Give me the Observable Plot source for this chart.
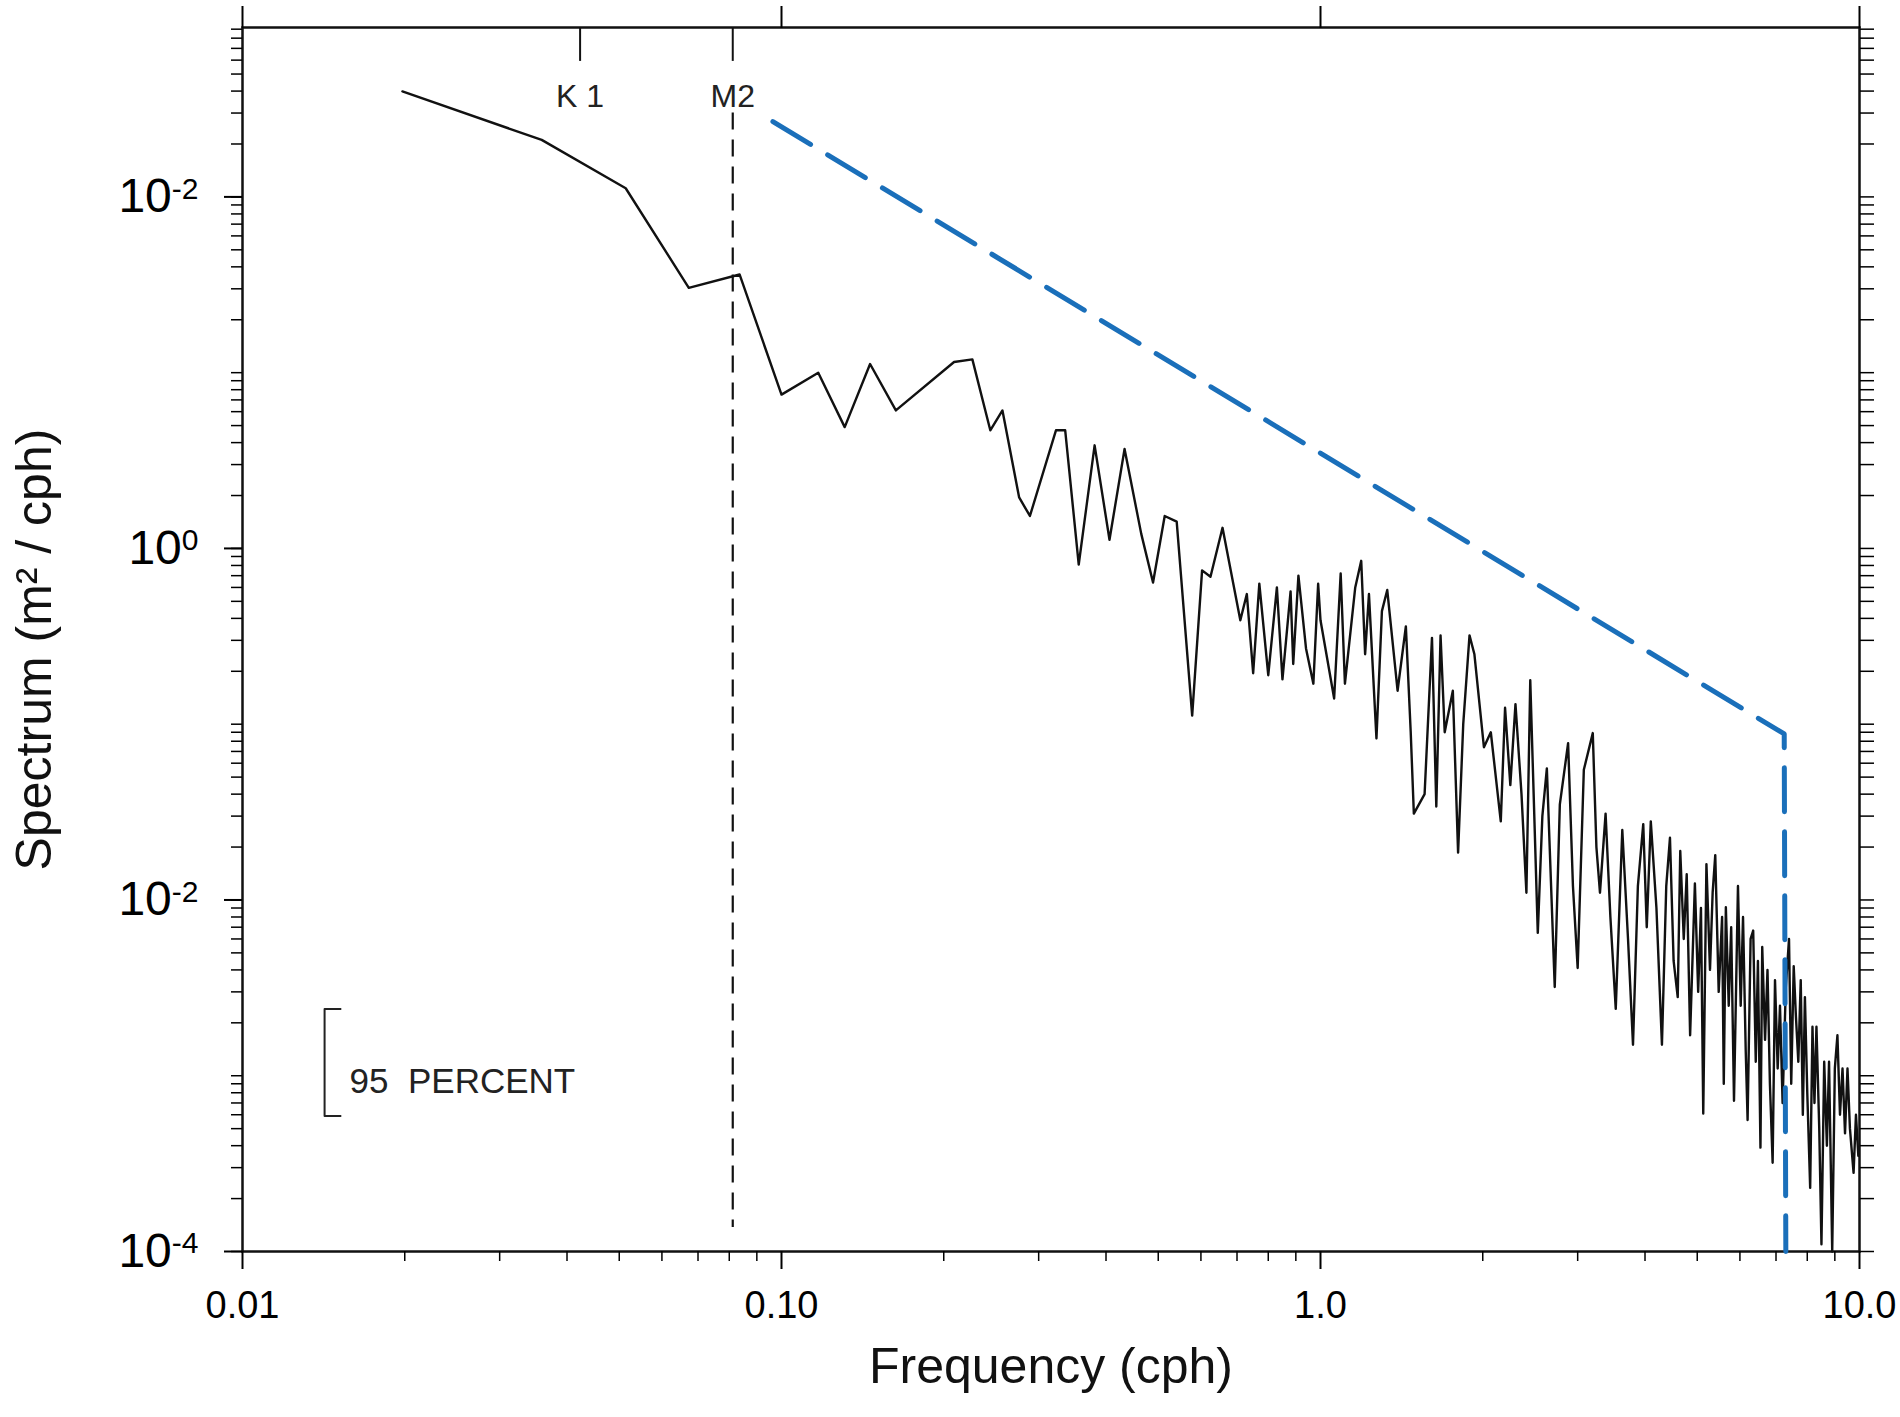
<!DOCTYPE html>
<html><head><meta charset="utf-8">
<script src="https://cdn.jsdelivr.net/npm/d3@7"></script>
<script src="https://cdn.jsdelivr.net/npm/@observablehq/plot@0.6"></script>
<style>body{margin:0;background:#fff}</style>
</head><body><div id="chart"></div>
<script>
const freq = [0.0198,0.0359,0.0514,0.0673,0.0836,0.100,0.117,0.131,0.146,0.163,0.209,0.226,0.244,0.257,0.276,0.289,0.323,0.336,0.356,0.381,0.406,0.433,0.465,0.489,0.514,0.541,0.578,0.603,0.625,0.658,
0.71,0.73,0.75,0.77,0.80,0.83,0.85,0.88,0.89,0.91,0.94,0.97,0.99,1.00,1.06,1.09,1.11,1.16,1.19,1.21,1.23,1.27,1.30,1.33,1.39,1.44,1.47,1.49,1.56,1.61,1.64,1.67,1.70,1.76,1.80,1.84,1.89,1.93,2.01,2.07,2.16,2.20,2.25,2.30,2.36,2.41,2.45,2.53,2.58,2.63,2.72,2.78,
2.88,2.94,3.00,3.08,3.20,3.25,3.30,3.38,3.45,3.53,3.63,3.72,3.80,3.88,3.97,4.03,4.10,4.20,4.30,
4.38,4.45,4.52,4.60,4.65,4.72,4.78,4.85,4.95,5.02,5.08,5.13,5.20,5.28,5.34,5.40,5.48,5.56,5.60,5.65,5.72,5.78,5.85,5.95,6.02,6.08,6.15,6.20,6.28,6.35,6.42,6.48,6.55,6.60,6.68,6.75,6.82,6.90,6.97,7.05,7.12,7.20,7.30,7.40,7.47,7.55,7.62,7.70,7.78,7.85,7.92,8.00,8.10,8.18,8.25,8.32,8.42,8.50,8.60,8.70,8.78,8.90,9.00,9.10,9.20,9.30,9.40,9.50,9.60,9.75,9.85,9.95];
const spectrum = [398,211,112,30.4,36.2,7.5,10,4.9,11.2,6.1,11.5,11.9,4.7,6.1,1.95,1.53,4.7,4.7,0.81,3.86,1.12,3.68,1.21,0.64,1.53,1.42,0.112,0.75,0.69,1.31,
0.39,0.55,0.195,0.63,0.19,0.6,0.18,0.57,0.22,0.70,0.27,0.17,0.63,0.39,0.14,0.72,0.17,0.6,0.85,0.25,0.55,0.083,0.44,0.58,0.155,0.36,0.091,0.031,0.040,0.31,0.034,0.32,0.09,0.155,0.0186,0.1,0.32,0.25,0.074,0.09,0.028,0.124,0.045,0.13,0.04,0.011,0.178,0.0065,0.03,0.056,0.0032,0.035,
0.078,0.012,0.0041,0.055,0.089,0.02,0.011,0.031,0.008,0.0024,0.025,0.006,0.0015,0.012,0.027,0.007,0.028,0.009,0.0015,
0.012,0.0226,0.0045,0.0028,0.019,0.006,0.014,0.0017,0.0124,0.003,0.009,0.00061,0.016,0.004,0.011,0.018,0.003,0.008,0.0009,0.0091,0.0025,0.007,0.00072,0.012,0.0025,0.008,0.0014,0.00056,0.006,0.0067,0.0012,0.0045,0.00039,0.0054,0.0016,0.004,0.0009,0.00032,0.0035,0.0011,0.0025,0.0007,0.0032,0.006,0.0009,0.0042,0.0022,0.0012,0.0035,0.0006,0.0028,0.0008,0.00023,0.0019,0.0007,0.0019,0.0005,0.00011,0.0012,0.0004,0.0012,0.0001,0.0011,0.0017,0.0006,0.0011,0.00047,0.0011,0.0005,0.00028,0.0006,0.00035];
const slopeFreq = [0.0964, 7.25, 7.3];
const slopeValue = [268, 0.088, 0.0001];
const m2Freq = 0.0812, m2Range = [300, 0.000137];
const tideFreq = [0.0423, 0.0812], tideNames = ["K 1", "M2"], tideTickTop = 920, tideTickBottom = 590, tideLabelY = 370;
const confFreq = [0.0152, 0.0142, 0.0142, 0.0152], confValue = [0.0024, 0.0024, 0.00059, 0.00059];
const confLabel = "95  PERCENT", confLabelFreq = 0.0158, confLabelValue = 0.00092;
const xMajor = [0.01, 0.1, 1, 10], xLabels = ["0.01", "0.10", "1.0", "10.0"];
const yMajor = [1e-4, 1e-2, 1, 100], yExponents = ["-4", "-2", "0", "-2"];
const xMinor = d3.range(-2, 1).flatMap(e => d3.range(2, 10).map(m => m * 10 ** e));
const yMinor = d3.range(-4, 3).flatMap(e => d3.range(1, 10).map(m => m * 10 ** e)).filter(v => v <= 920);

const data = freq.map((f, i) => ({f, v: spectrum[i]}));
const slope = slopeFreq.map((f, i) => ({f, v: slopeValue[i]}));
const conf = confFreq.map((f, i) => ({f, v: confValue[i]}));
const font = "Liberation Sans, Arial, sans-serif";

const plot = Plot.plot({
  width: 1900, height: 1417,
  marginLeft: 242, marginRight: 41, marginTop: 27, marginBottom: 166,
  style: {fontFamily: font, background: "#fff"},
  x: {type: "log", domain: [0.01, 10]},
  y: {type: "log", domain: [1e-4, 920]},
  marks: [
    Plot.frame({stroke: "#111", strokeWidth: 2.5}),
    Plot.axisX({ticks: xMajor, tickFormat: d => xLabels[xMajor.indexOf(d)], tickSize: 18, tickPadding: 22, fontSize: 38, strokeWidth: 2, label: null}),
    Plot.axisX({ticks: xMinor, tickFormat: () => "", tickSize: 10, strokeWidth: 1.5, label: null}),
    Plot.axisX({anchor: "top", ticks: xMajor, tickFormat: () => "", tickSize: 22, strokeWidth: 2, label: null}),
    Plot.axisY({ticks: yMajor, tickFormat: () => "10", tickSize: 18, tickPadding: 26, fontSize: 48, strokeWidth: 2, label: null}),
    Plot.axisY({ticks: yMinor, tickFormat: () => "", tickSize: 11, strokeWidth: 1.5, label: null}),
    Plot.axisY({anchor: "right", ticks: yMinor, tickFormat: () => "", tickSize: 14, strokeWidth: 1.5, label: null}),
    Plot.ruleX(tideFreq, {x: d => d, y1: tideTickTop, y2: tideTickBottom, stroke: "#111", strokeWidth: 2}),
    Plot.text(tideFreq, {x: d => d, y: tideLabelY, text: (d, i) => tideNames[i], fontSize: 32, fill: "#222", letterSpacing: 2}),
    Plot.ruleX([m2Freq], {x: d => d, y1: m2Range[0], y2: m2Range[1], stroke: "#111", strokeWidth: 2.2, strokeDasharray: "17,10"}),
    Plot.line(data, {x: "f", y: "v", stroke: "#111", strokeWidth: 2.4}),
    Plot.line(slope, {x: "f", y: "v", stroke: "#1a6fba", strokeWidth: 5, strokeDasharray: "44,20"}),
    Plot.line(conf, {x: "f", y: "v", stroke: "#222", strokeWidth: 2}),
    Plot.text([confLabel], {x: confLabelFreq, y: confLabelValue, text: d => d, textAnchor: "start", fontSize: 35, fill: "#222", letterSpacing: 6}),
    Plot.text(["Frequency (cph)"], {frameAnchor: "bottom", dy: 131, text: d => d, fontSize: 50, fill: "#111"}),
    Plot.text(["Spectrum (m² / cph)"], {frameAnchor: "left", textAnchor: "middle", dx: -208, dy: 10, rotate: -90, text: d => d, fontSize: 50, fill: "#111"})
  ]
});
document.getElementById("chart").append(plot);
const labs = plot.querySelectorAll('g[aria-label="y-axis tick label"] text');
labs.forEach((t, i) => {
  const ts = document.createElementNS("http://www.w3.org/2000/svg", "tspan");
  ts.setAttribute("dy", "-0.45em");
  ts.setAttribute("font-size", "30");
  ts.textContent = yExponents[i];
  t.appendChild(ts);
});
</script></body></html>
